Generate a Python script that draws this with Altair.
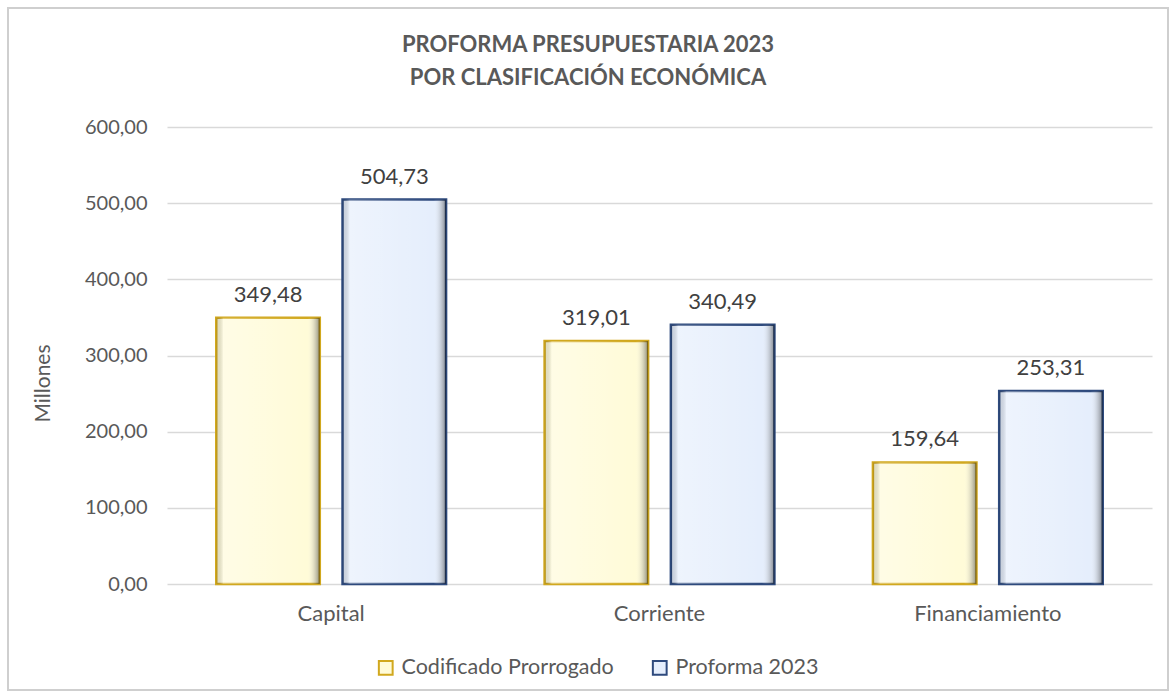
import altair as alt
import pandas as pd

categories = ["Capital", "Corriente", "Financiamiento"]
series_names = ["Codificado Prorrogado", "Proforma 2023"]
codificado = [349.48, 319.01, 159.64]
proforma = [504.73, 340.49, 253.31]
title_lines = ["PROFORMA PRESUPUESTARIA 2023", "POR CLASIFICACIÓN ECONÓMICA"]

rows = []
for i, c in enumerate(categories):
    rows.append({"cat": c, "serie": series_names[0], "valor": codificado[i]})
    rows.append({"cat": c, "serie": series_names[1], "valor": proforma[i]})
df = pd.DataFrame(rows)

FONT = "Lato"
GRAY = "#595959"
FS = 22

x_enc = alt.X("cat:N", sort=categories, title=None,
              scale=alt.Scale(paddingInner=0.30, paddingOuter=0.15),
              axis=alt.Axis(labelFontSize=FS, labelColor=GRAY, labelFont=FONT,
                            ticks=False, domain=False, labelPadding=19, labelAngle=0))
xoff = alt.XOffset("serie:N", sort=series_names,
                   scale=alt.Scale(paddingInner=0.18, paddingOuter=0))
y_enc = alt.Y("valor:Q", title="Millones",
              scale=alt.Scale(domain=[0, 600], nice=False),
              axis=alt.Axis(values=[0, 100, 200, 300, 400, 500, 600],
                            labelExpr="replace(format(datum.value, '.2f'), '.', ',')",
                            labelFontSize=20, labelColor=GRAY, labelFont=FONT,
                            labelPadding=20, ticks=False, domain=False,
                            gridColor="#d9d9d9", gridWidth=1.3,
                            titleFontSize=21, titleColor=GRAY, titleFont=FONT,
                            titleFontWeight="normal", titleX=-114, titleY=256))

base = alt.Chart(df)

frame = alt.Chart(pd.DataFrame({"a": [0]})).mark_rect(
    fill="transparent", stroke="#cfcfcf", strokeWidth=2
).encode(x=alt.value(-159), x2=alt.value(1001), y=alt.value(-119), y2=alt.value(563))

title1 = alt.Chart(pd.DataFrame({"t": [title_lines[0]]})).mark_text(
    fontSize=22, font=FONT, fontWeight="bold", color=GRAY, baseline="middle", align="center"
).encode(x=alt.value(421), y=alt.value(-82), text="t:N")
title2 = alt.Chart(pd.DataFrame({"t": [title_lines[1]]})).mark_text(
    fontSize=22, font=FONT, fontWeight="bold", color=GRAY, baseline="middle", align="center"
).encode(x=alt.value(421), y=alt.value(-49), text="t:N")

leg = alt.Legend(title=None, orient="none", legendX=208, legendY=530,
                 direction="horizontal", symbolType="square",
                 symbolSize=190, symbolStrokeWidth=2, labelLimit=400,
                 labelFontSize=21.5, labelColor=GRAY, labelFont=FONT,
                 labelOffset=5, columnPadding=34)

bars = base.mark_bar(strokeWidth=2.5).encode(
    x=x_enc, xOffset=xoff, y=y_enc,
    fill=alt.Fill("serie:N", sort=series_names,
                  scale=alt.Scale(domain=series_names, range=["#FFFBD8", "#E5EEFC"]),
                  legend=leg),
    stroke=alt.Stroke("serie:N", sort=series_names,
                      scale=alt.Scale(domain=series_names, range=["#D1A81E", "#2E4A7D"]),
                      legend=leg),
)

shade = base.mark_bar(
    fill=alt.Gradient(
        gradient="linear", x1=0, x2=1, y1=0, y2=0,
        stops=[alt.GradientStop(offset=0, color="rgba(0,0,0,0.10)"),
               alt.GradientStop(offset=0.07, color="rgba(255,255,255,0.35)"),
               alt.GradientStop(offset=0.88, color="rgba(255,255,255,0)"),
               alt.GradientStop(offset=1, color="rgba(0,0,0,0.45)")]),
    strokeWidth=0
).encode(x=x_enc, xOffset=xoff, y=y_enc)

labels = base.mark_text(baseline="alphabetic", dy=-16, fontSize=FS, color="#404040", font=FONT).transform_calculate(
    lbl="replace(format(datum.valor, '.2f'), '.', ',')"
).encode(x=x_enc, xOffset=xoff, y=y_enc, text="lbl:N")

chart = alt.layer(frame, bars, shade, labels, title1, title2).properties(
    width=985, height=457,
    autosize=alt.AutoSizeParams(type="none"),
    padding={"left": 167, "top": 127, "right": 24, "bottom": 114},
    background="white",
).configure_view(stroke=None)

chart.save("out.html", embed_options={"renderer": "svg", "actions": False})
